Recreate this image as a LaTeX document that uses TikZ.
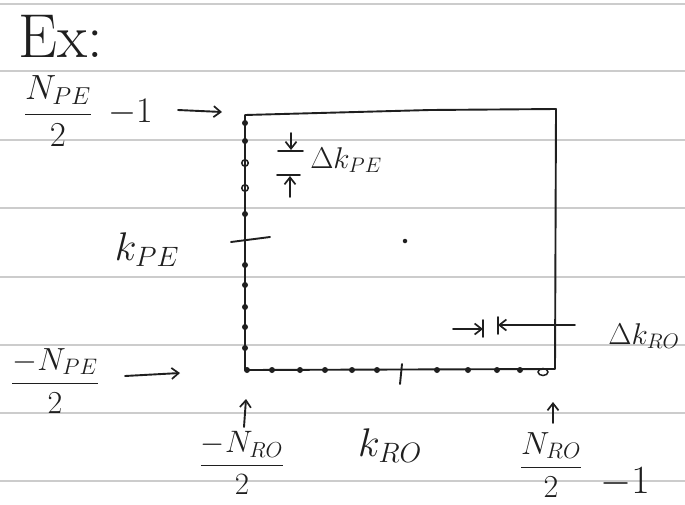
\RequirePackage{fix-cm}
\documentclass[tikz,border=0pt]{standalone}
\usepackage{amsmath}
\usetikzlibrary{arrows.meta,shapes.geometric}
\begin{document}
\begin{tikzpicture}[x=1pt,y=-1pt,
  pen/.style={line width=1.9pt, line cap=round, line join=round, draw=black!88},
  arr/.style={pen, -{Straight Barb[length=7pt,width=11pt,line width=1.7pt]}},
  ruling/.style={line width=2pt, draw=black!20},
  dotmark/.style={circle, fill=black!88, inner sep=0pt, minimum size=6pt},
  ringmark/.style={circle, draw=black!88, line width=1.5pt, inner sep=0pt, minimum size=6.5pt},
  lbl/.style={inner sep=0pt, text=black!88}]
\useasboundingbox (0,0) rectangle (685,504);
\clip (0,0) rectangle (685,504);
\fill[white] (0,0) rectangle (685,504);
\foreach \yy in {4,71,140,208,277,345,413,481} \draw[ruling] (0,\yy) -- (685,\yy);

% box
\coordinate (TL) at (245,115);
\coordinate (TM) at (430,110);
\coordinate (TR) at (556,109);
\coordinate (BR) at (555,369);
\coordinate (BL) at (245,370);
\draw[pen] (BL) -- (TL) -- (TM) -- (TR) -- (BR) -- (BL);

% dots on left edge
\foreach \yy in {123,141,214,265,285,307,327,348} \node[dotmark] at (245,\yy) {};
\foreach \yy in {163,188} \node[ringmark] at (245,\yy) {};
\node[dotmark] (corner) at (247,370) {};
\draw[pen] (231,242) -- (270,237);
% dots on bottom edge
\foreach \xx in {272,300,325,352,377,437,468,497,520} \node[dotmark] at (\xx,370) {};
\node[ellipse, draw=black!88, line width=1.5pt, inner sep=0pt, minimum width=10pt, minimum height=7pt] (lastro) at (543,372) {};
\draw[pen] (402,364) -- (400,384);
% centre point
\node[dotmark, minimum size=4.5pt] (centre) at (405,241) {};

% labels
\node[lbl, anchor=base west] (ex) at (18,57) {\fontsize{62}{62}\selectfont Ex:};
\node[lbl] (npetop) at (58,111) {\fontsize{35}{35}\selectfont $\dfrac{N_{PE}}{2}$};
\node[lbl, anchor=west] (npetopm) at (108,112) {\fontsize{36}{36}\selectfont $-1$};
\node[lbl] (kpe) at (147,250) {\fontsize{40}{40}\selectfont $k_{PE}$};
\node[lbl] (dkpe) at (346,160) {\fontsize{30}{30}\selectfont $\Delta k_{PE}$};
\node[lbl] (npebot) at (55,381) {\fontsize{32}{32}\selectfont $\dfrac{-N_{PE}}{2}$};
\node[lbl] (dkro) at (644,336) {\fontsize{30}{30}\selectfont $\Delta k_{RO}$};
\node[lbl] (kro) at (390,446) {\fontsize{40}{40}\selectfont $k_{RO}$};
\node[lbl] (nrobot) at (242,463) {\fontsize{31}{31}\selectfont $\dfrac{-N_{RO}}{2}$};
\node[lbl] (nrotop) at (551,465) {\fontsize{32}{32}\selectfont $\dfrac{N_{RO}}{2}$};
\node[lbl, anchor=west] (nrotopm) at (600,482) {\fontsize{40}{40}\selectfont $-1$};

% arrows pointing at the grid limits
\coordinate (a1s) at (178,110); \coordinate (a1e) at (222,112);
\draw[arr] (a1s) -- (a1e);
\coordinate (a2s) at (125,376); \coordinate (a2e) at (180,373);
\draw[arr] (a2s) -- (a2e);
\coordinate (a3s) at (244,427); \coordinate (a3e) at (246,399);
\draw[arr] (a3s) -- (a3e);
\coordinate (a4s) at (553,423); \coordinate (a4e) at (553,402);
\draw[arr] (a4s) -- (a4e);

% delta k_PE marks
\coordinate (p1s) at (291,133); \coordinate (p1e) at (291,150);
\draw[arr] (p1s) -- (p1e);
\draw[pen] (278,151) -- (303,151);
\draw[pen] (277,175) -- (300,175);
\coordinate (p2s) at (290,197); \coordinate (p2e) at (290,176);
\draw[arr] (p2s) -- (p2e);

% delta k_RO marks
\coordinate (r1s) at (453,329); \coordinate (r1e) at (483,329);
\draw[arr] (r1s) -- (r1e);
\draw[pen] (483,320) -- (483,337);
\draw[pen] (498,317) -- (498,334);
\coordinate (r2s) at (575,325); \coordinate (r2e) at (498,325);
\draw[arr] (r2s) -- (r2e);
\end{tikzpicture}
\end{document}
